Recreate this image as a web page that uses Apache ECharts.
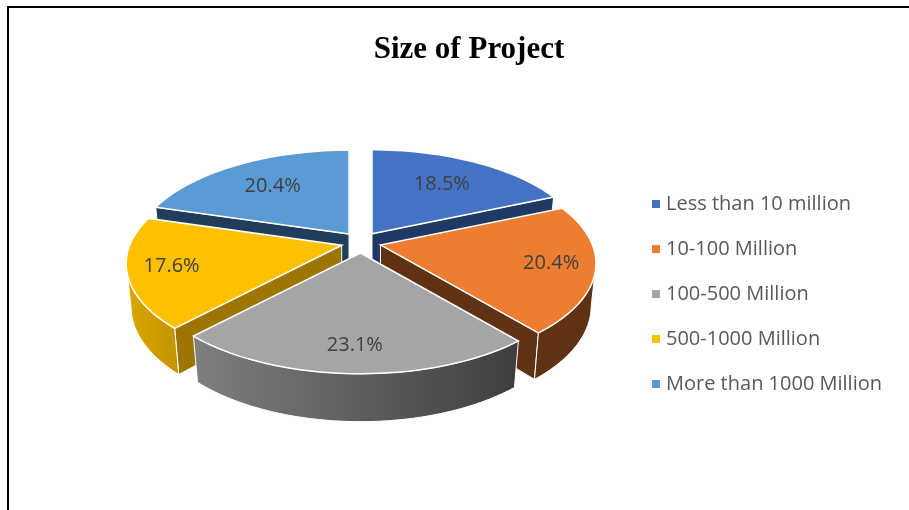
<!DOCTYPE html>
<html>
<head>
<meta charset="utf-8">
<style>html,body{margin:0;padding:0;background:#fff}#chart{width:909px;height:510px}</style>
<script src="https://cdn.jsdelivr.net/npm/echarts@6/dist/echarts.min.js"></script>
</head>
<body>
<div id="chart"></div>
<script>
const categories = ['Less than 10 million', '10-100 Million', '100-500 Million', '500-1000 Million', 'More than 1000 Million'];
const shares = [18.5, 20.4, 23.1, 17.6, 20.4];
const topColors = ['#4472c4', '#ed7d31', '#a5a5a5', '#ffc000', '#5b9bd5'];
const legendColors = ['#4472c4', '#ed7d31', '#a5a5a5', '#ffc000', '#5b9bd5'];
const sideColors = ['#1f3864', '#5f3214', '#6b6b6b', '#9c7600', '#203d5b'];
const wallLeft = ['#2f5597', '#5f3214', '#7f7f7f', '#dba700', '#3f75a8'];
const wallRight = ['#2f5597', '#5f3214', '#3e3e3e', '#c49400', '#3f75a8'];

// Perspective pie: disc centre, projection gains and exploded-slice offsets.
const CX = 361, CY = 242.5;
const GAIN_X = 212, GAIN_Y = 99, PERSP = 0.18;
const DEPTH_Y = 43, DEPTH_PERSP = 0.022;
const EXPLODE_X = 20, EXPLODE_Y = 10.5;
const RAD = Math.PI / 180;
const total = shares.reduce((a, b) => a + b, 0);

// Projects a disc point (radius r, clockwise angle t from the back) at height h (0 top, 1 base).
function project(ox, oy, r, t, h) {
  const X = r * Math.sin(t), Z = r * Math.cos(t);
  const w = 1 + PERSP * Z + DEPTH_PERSP * h;
  return [ox + GAIN_X * X / w, oy + (-GAIN_Y * Z + DEPTH_Y * h) / w];
}
function area(p) {
  let s = 0;
  for (let i = 0; i < p.length; i++) {
    const q = p[(i + 1) % p.length];
    s += p[i][0] * q[1] - q[0] * p[i][1];
  }
  return s / 2;
}
function arc(ox, oy, a, b, h) {
  const n = Math.max(2, Math.ceil((b - a) / (2 * RAD)));
  const out = [];
  for (let i = 0; i <= n; i++) out.push(project(ox, oy, 1, a + (b - a) * i / n, h));
  return out;
}

const spans = [];
shares.reduce((acc, v) => {
  const next = acc + v / total * 360;
  spans.push([acc * RAD, next * RAD]);
  return next;
}, 0);

function renderSlice(index, value) {
  const [a, b] = spans[index];
  const mid = (a + b) / 2;
  const ox = CX + EXPLODE_X * Math.sin(mid);
  const oy = CY - EXPLODE_Y * Math.cos(mid);
  const children = [];
  const apexTop = project(ox, oy, 0, 0, 0), apexBase = project(ox, oy, 0, 0, 1);
  const edge = { stroke: '#fff', lineWidth: 1 };

  // Cut faces of the wedge, keeping only those turned towards the viewer.
  [
    [project(ox, oy, 1, a, 0), apexTop, apexBase, project(ox, oy, 1, a, 1)],
    [apexTop, project(ox, oy, 1, b, 0), project(ox, oy, 1, b, 1), apexBase]
  ].forEach(points => {
    if (area(points) > 0) {
      children.push({ type: 'polygon', shape: { points }, style: { fill: sideColors[index], ...edge } });
    }
  });

  // Curved outer wall across the part of the rim facing the viewer.
  const silhouette = Math.acos(-PERSP);
  const from = Math.max(a, silhouette), to = Math.min(b, 2 * Math.PI - silhouette);
  if (to > from) {
    const points = arc(ox, oy, from, to, 0).concat(arc(ox, oy, from, to, 1).reverse());
    children.push({
      type: 'polygon', shape: { points },
      style: {
        fill: new echarts.graphic.LinearGradient(0, 0, 1, 0, [
          { offset: 0, color: wallLeft[index] }, { offset: 1, color: wallRight[index] }
        ]),
        ...edge
      }
    });
  }

  // Top face.
  children.push({
    type: 'polygon',
    shape: { points: [apexTop].concat(arc(ox, oy, a, b, 0)) },
    style: { fill: topColors[index], stroke: '#fff', lineWidth: 1.5 }
  });

  // Percentage label, pulled further out on the foreshortened front slices.
  const reach = Math.cos(mid) > 0 ? 0.66 : 0.8;
  const at = project(ox, oy, reach, mid, 0);
  children.push({
    type: 'text',
    style: {
      text: value.toFixed(1) + '%', x: at[0], y: at[1],
      fill: '#404040', font: '20px "Open Sans"', align: 'center', verticalAlign: 'middle'
    }
  });
  return { type: 'group', children };
}

const option = {
  animation: false,
  backgroundColor: '#fff',
  title: {
    text: 'Size of Project', left: 464, top: 29, textAlign: 'center',
    textStyle: { fontFamily: '"Liberation Serif"', fontWeight: 'bold', fontSize: 31, color: '#000' }
  },
  legend: {
    orient: 'vertical', left: 647, top: 187, itemWidth: 8, itemHeight: 8, itemGap: 21,
    icon: 'rect', data: categories, selectedMode: false,
    textStyle: { fontFamily: '"Open Sans"', fontSize: 20, lineHeight: 24, color: '#595959', padding: [0, 0, 0, 1] }
  },
  graphic: [
    { type: 'rect', shape: { x: 7, y: 6, width: 2, height: 504 }, style: { fill: '#000' } },
    { type: 'rect', shape: { x: 7, y: 6, width: 902, height: 2 }, style: { fill: '#000' } }
  ],
  series: categories.map((name, i) => {
    const mid = (spans[i][0] + spans[i][1]) / 2;
    return {
      type: 'custom', name, coordinateSystem: 'none',
      z: 3 - Math.cos(mid),
      itemStyle: { color: legendColors[i] },
      data: [shares[i]],
      renderItem: (params, api) => renderSlice(i, api.value(0))
    };
  })
};

echarts.init(document.getElementById('chart'), null, { renderer: 'canvas' }).setOption(option);
</script>
</body>
</html>
